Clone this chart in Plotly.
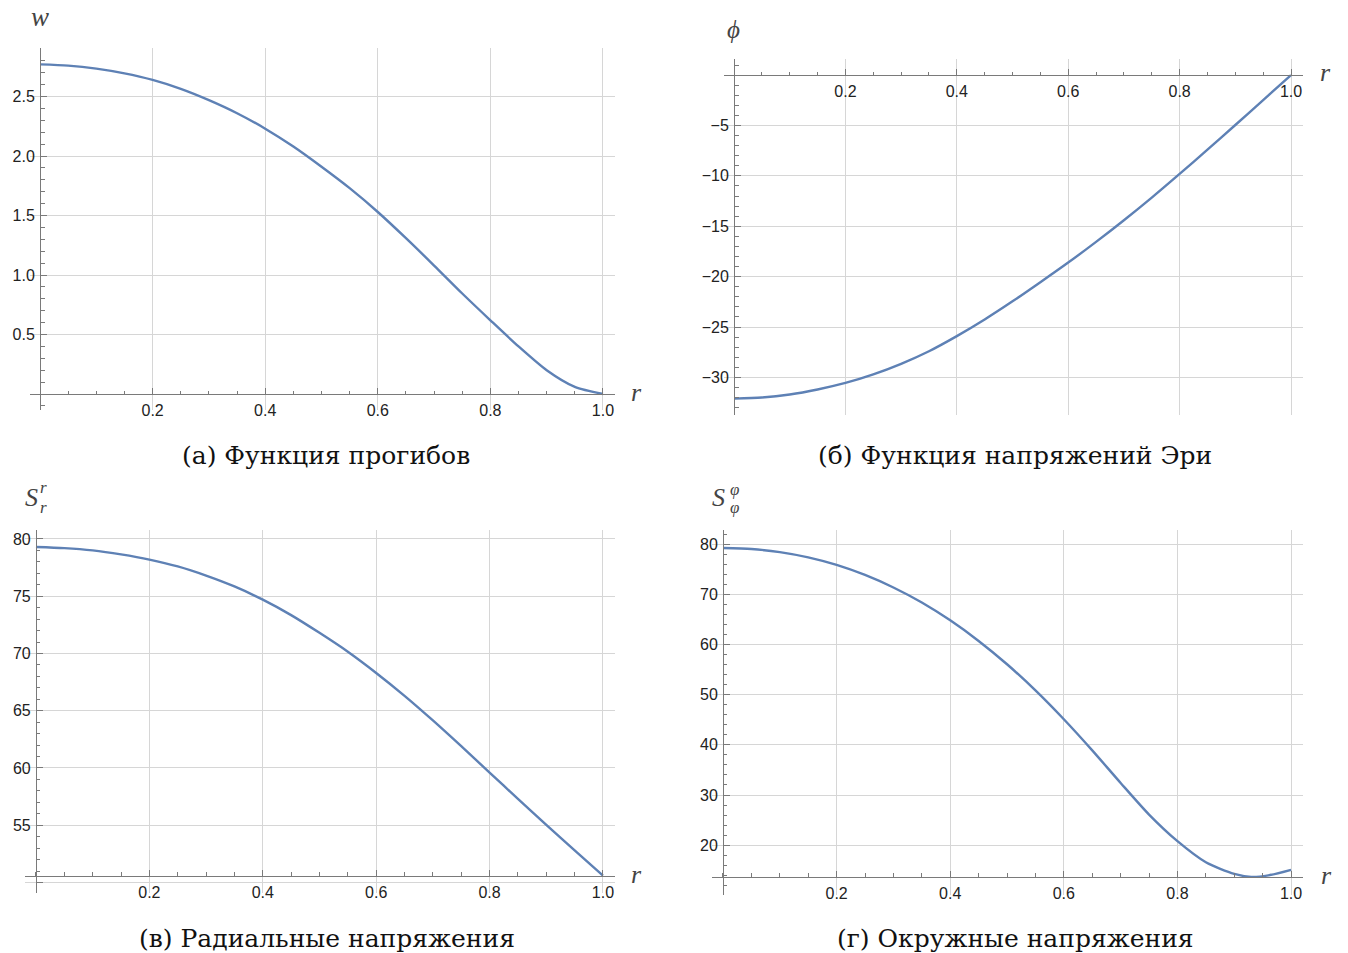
import plotly.graph_objects as go

W, H = 1348, 953

# ---------------- data ----------------
r_grid = [0.0, 0.05, 0.1, 0.15, 0.2, 0.25, 0.3, 0.35, 0.4, 0.45, 0.5,
          0.55, 0.6, 0.65, 0.7, 0.75, 0.8, 0.85, 0.9, 0.95, 1.0]

w_vals = [2.77, 2.76, 2.735, 2.695, 2.64, 2.565, 2.47, 2.36, 2.23, 2.08, 1.91,
          1.73, 1.53, 1.31, 1.08, 0.845, 0.62, 0.40, 0.20, 0.06, 0.0]

phi_vals = [-32.1, -32.0, -31.7, -31.2, -30.55, -29.7, -28.65, -27.4, -25.9, -24.25, -22.45,
            -20.55, -18.6, -16.55, -14.4, -12.15, -9.8, -7.4, -4.95, -2.48, 0.0]

sr_vals = [79.3, 79.2, 79.0, 78.65, 78.2, 77.6, 76.8, 75.85, 74.7, 73.35, 71.8,
           70.15, 68.3, 66.3, 64.15, 61.9, 59.6, 57.3, 55.03, 52.8, 50.6]

r_sphi = [0.0, 0.05, 0.1, 0.15, 0.2, 0.25, 0.3, 0.35, 0.4, 0.45, 0.5,
          0.55, 0.6, 0.65, 0.7, 0.75, 0.8, 0.85, 0.9, 0.93, 0.96, 1.0]
sphi_vals = [79.2, 79.0, 78.4, 77.35, 75.85, 73.85, 71.35, 68.35, 64.8, 60.7, 56.05,
             50.85, 45.1, 38.9, 32.4, 26.1, 20.8, 16.6, 14.3, 13.7, 14.0, 15.1]

x_ticks = [0.2, 0.4, 0.6, 0.8, 1.0]
w_ticks = [0.5, 1.0, 1.5, 2.0, 2.5]
phi_ticks = [-30, -25, -20, -15, -10, -5]
sr_ticks = [50, 55, 60, 65, 70, 75, 80]
sphi_ticks = [20, 30, 40, 50, 60, 70, 80]

captions = ["(а) Функция прогибов", "(б) Функция напряжений Эри",
            "(в) Радиальные напряжения", "(г) Окружные напряжения"]

# ---------------- layout of panels (pixel boxes) ----------------
panels = [
    dict(x=r_grid, y=w_vals, box=(29.9, 614.8, 48, 410), xr=(-0.018, 1.021), yr=(-0.134, 2.908),
         origin=0.0, yt=w_ticks, ytext=[f"{v:.1f}" for v in w_ticks], ydt=0.1),
    dict(x=r_grid, y=phi_vals, box=(724, 1302.7, 59, 414.7), xr=(-0.018, 1.021), yr=(-33.7, 1.6),
         origin=0.0, yt=phi_ticks, ytext=["\u2212" + str(abs(v)) for v in phi_ticks], ydt=1),
    dict(x=r_grid, y=sr_vals, box=(25.2, 614.9, 529.8, 892.8), xr=(-0.019, 1.021), yr=(49.1, 80.8),
         origin=sr_vals[-1], yt=sr_ticks, ytext=[""] + [str(v) for v in sr_ticks[1:]], ydt=1),
    dict(x=r_sphi, y=sphi_vals, box=(712.2, 1303, 530, 894.9), xr=(-0.019, 1.021), yr=(10.1, 82.8),
         origin=min(sphi_vals), yt=sphi_ticks, ytext=[str(v) for v in sphi_ticks], ydt=2),
]

AX = "#7a7a7a"
GRID = "#d6d6d6"
LINE = "rgb(94,129,181)"
TICKFONT = dict(family="Liberation Sans, Arial, sans-serif", size=16, color="#222222")

fig = go.Figure()
layout = {}
for i, p in enumerate(panels):
    k = "" if i == 0 else str(i + 1)
    L, R, T, B = p["box"]
    dx = [L / W, R / W]
    dy = [1 - B / H, 1 - T / H]
    x0, x1 = p["xr"]
    y0, y1 = p["yr"]
    ypos = dx[0] + (0 - x0) / (x1 - x0) * (dx[1] - dx[0])
    xpos = dy[0] + (p["origin"] - y0) / (y1 - y0) * (dy[1] - dy[0])
    fig.add_trace(go.Scatter(x=p["x"], y=p["y"], mode="lines",
                             line=dict(color=LINE, width=2.4, shape="spline", smoothing=0.7),
                             xaxis="x" + k, yaxis="y" + k, showlegend=False, hoverinfo="skip"))
    layout["xaxis" + k] = dict(
        domain=dx, range=list(p["xr"]), anchor="free", position=xpos, side="bottom",
        showline=True, linecolor=AX, linewidth=1, zeroline=False,
        tickmode="array", tickvals=x_ticks, ticktext=[f"{v:.1f}" for v in x_ticks],
        ticks="inside", ticklen=6, tickcolor=AX, tickwidth=1, tickfont=TICKFONT,
        ticklabelstandoff=2,
        showgrid=True, gridcolor=GRID, gridwidth=1,
        minor=dict(tickmode="linear", tick0=0, dtick=0.05, ticks="inside", ticklen=3.5,
                   tickcolor=AX, showgrid=False),
    )
    layout["yaxis" + k] = dict(
        domain=dy, range=list(p["yr"]), anchor="free", position=ypos, side="left",
        showline=True, linecolor=AX, linewidth=1, zeroline=False,
        tickmode="array", tickvals=p["yt"], ticktext=p["ytext"],
        ticks="inside", ticklen=6, tickcolor=AX, tickwidth=1, tickfont=TICKFONT,
        ticklabelstandoff=2,
        showgrid=True, gridcolor=GRID, gridwidth=1,
        minor=dict(tickmode="linear", tick0=0, dtick=p["ydt"], ticks="inside", ticklen=3.5,
                   tickcolor=AX, showgrid=False),
    )

ann = []
def txt(s, px, py, size=22, family="Liberation Serif, serif", color="#444444", xa="center", ya="middle"):
    ann.append(dict(text=s, x=px / W, y=1 - py / H, xref="paper", yref="paper",
                    xanchor=xa, yanchor=ya, showarrow=False,
                    font=dict(family=family, size=size, color=color)))

# axis labels
txt("<i>w</i>", 40, 17, size=27)
txt("<i>ϕ</i>", 733, 29, size=25)
txt("<i>S</i>", 31, 497, size=26)
txt("<i>r</i>", 43, 488, size=17)
txt("<i>r</i>", 43, 507, size=17)
txt("<i>S</i>", 718, 497, size=26)
txt("<i>φ</i>", 734, 489, size=17)
txt("<i>φ</i>", 734, 508, size=17)
for (px, py) in [(636, 392), (1325, 73), (636, 874), (1326, 875)]:
    txt("<i>r</i>", px, py, size=26)

# captions
for s, (px, py) in zip(captions, [(326, 455), (1015, 455), (327, 938), (1015, 938)]):
    txt(s, px, py, size=25, family="DejaVu Serif, serif", color="#111111")

fig.update_layout(width=W, height=H, margin=dict(l=0, r=0, t=0, b=0),
                  paper_bgcolor="white", plot_bgcolor="white", annotations=ann, **layout)
fig.write_html("out.html")
